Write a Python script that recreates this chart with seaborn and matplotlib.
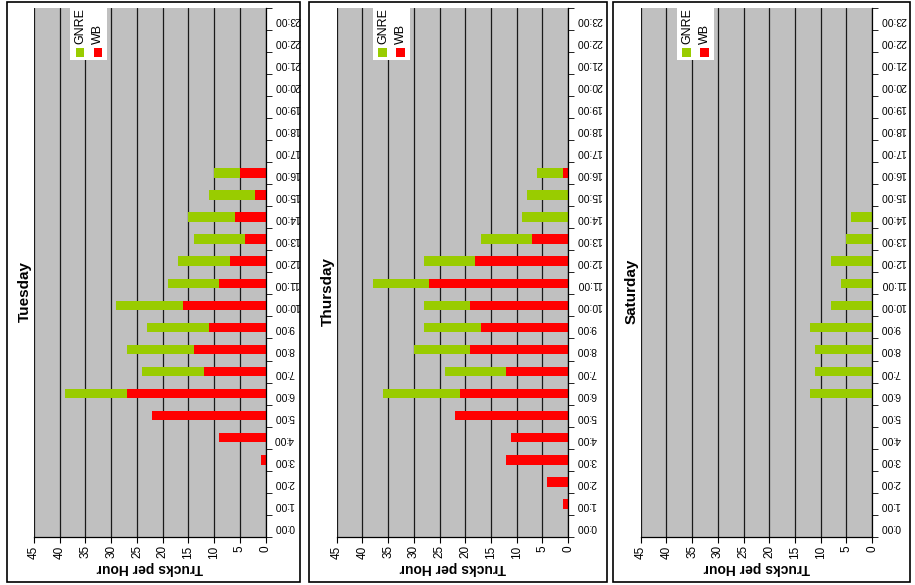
import pandas as pd
import matplotlib.pyplot as plt
import seaborn as sns
from matplotlib.patches import Rectangle
from matplotlib.ticker import FixedLocator

hours = [f'{h}:00' for h in range(24)]
days = ['Tuesday', 'Thursday', 'Saturday']

# trucks per hour, index = hour of day
tuesday_wb = [0, 0, 0, 1, 9, 22, 27, 12, 14, 11, 16, 9, 7, 4, 6, 2, 5, 0, 0, 0, 0, 0, 0, 0]
tuesday_gnre = [0, 0, 0, 0, 0, 0, 12, 12, 13, 12, 13, 10, 10, 10, 9, 9, 5, 0, 0, 0, 0, 0, 0, 0]
thursday_wb = [0, 1, 4, 12, 11, 22, 21, 12, 19, 17, 19, 27, 18, 7, 0, 0, 1, 0, 0, 0, 0, 0, 0, 0]
thursday_gnre = [0, 0, 0, 0, 0, 0, 15, 12, 11, 11, 9, 11, 10, 10, 9, 8, 5, 0, 0, 0, 0, 0, 0, 0]
saturday_wb = [0] * 24
saturday_gnre = [0, 0, 0, 0, 0, 0, 12, 11, 11, 12, 8, 6, 8, 5, 4, 0, 0, 0, 0, 0, 0, 0, 0, 0]

GREEN = '#99CC00'
RED = '#FF0000'
W, H = 915, 585

sns.set_style('white')
plt.rcParams['font.family'] = ['Liberation Sans', 'DejaVu Sans']
plt.rcParams.update({'text.color': 'black', 'axes.labelcolor': 'black',
                     'xtick.color': 'black', 'ytick.color': 'black'})

fig = plt.figure(figsize=(W / 100, H / 100), dpi=100)

# (border left, border right, plot left, plot right) in pixels
panels = [(7, 300, 34, 265.7), (309, 607, 336.7, 568), (613, 910, 640.7, 872)]
plot_top, plot_bot = 7.5, 537


def add_legend(ax):
    ax.add_patch(Rectangle((0.155, 0.90), 0.16, 0.10, transform=ax.transAxes,
                           facecolor='white', edgecolor='none', zorder=5, clip_on=False))
    for x, col, name in [(0.180, GREEN, 'GNRE'), (0.258, RED, 'WB')]:
        ax.add_patch(Rectangle((x, 0.907), 0.036, 0.017, transform=ax.transAxes,
                               facecolor=col, edgecolor='none', zorder=6))
        ax.text(x + 0.02, 0.931, name, transform=ax.transAxes, rotation=90,
                ha='center', va='bottom', fontsize=9, zorder=6)


def draw_day(ax, wb, gnre):
    df = pd.DataFrame({'hour': hours, 'WB': wb, 'GNRE': gnre})
    df['total'] = df['WB'] + df['GNRE']
    order = hours[::-1]
    # stacked: total in green, WB drawn over it in red
    sns.barplot(data=df, x='total', y='hour', order=order, orient='h', color=GREEN,
                saturation=1, width=0.43, errorbar=None, linewidth=0, ax=ax)
    sns.barplot(data=df, x='WB', y='hour', order=order, orient='h', color=RED,
                saturation=1, width=0.43, errorbar=None, linewidth=0, ax=ax)

    ax.set_facecolor('#C0C0C0')
    ax.set_xlim(45, 0)
    ax.set_ylim(23.5, -0.5)
    ax.set_xticks(range(0, 46, 5))
    ax.set_axisbelow(True)
    ax.xaxis.grid(True, color='#1a1a1a', linewidth=0.9)
    ax.yaxis.grid(False)

    ax.yaxis.tick_right()
    ax.tick_params(axis='y', which='major', length=0, pad=6, labelsize=7.5, labelrotation=180)
    ax.yaxis.set_minor_locator(FixedLocator([i - 0.5 for i in range(25)]))
    ax.tick_params(axis='y', which='minor', length=4, right=True, left=False, color='black')
    ax.tick_params(axis='x', length=4, bottom=True, color='black', labelsize=8.5,
                   labelrotation=90, pad=2)

    for s in ['left', 'top']:
        ax.spines[s].set_visible(False)
    for s in ['right', 'bottom']:
        ax.spines[s].set_color('black')
        ax.spines[s].set_linewidth(0.9)

    ax.set_ylabel('')
    ax.set_xlabel('Trucks per Hour', rotation=180, fontsize=10, fontweight='bold', labelpad=2)
    add_legend(ax)


data = [(tuesday_wb, tuesday_gnre), (thursday_wb, thursday_gnre), (saturday_wb, saturday_gnre)]

for day, (wb, gnre), (bl, br, pl, pr) in zip(days, data, panels):
    ax = fig.add_axes([pl / W, 1 - plot_bot / H, (pr - pl) / W, (plot_bot - plot_top) / H])
    draw_day(ax, wb, gnre)
    fig.text((pl - 9) / W, 1 - 291 / H, day, rotation=90, fontweight='bold', fontsize=11,
             ha='center', va='center')
    fig.add_artist(Rectangle((bl / W, 1 - 582 / H), (br - bl) / W, 580 / H,
                             transform=fig.transFigure, fill=False, edgecolor='black', linewidth=1.2))

fig.savefig('out.png', dpi=100)
